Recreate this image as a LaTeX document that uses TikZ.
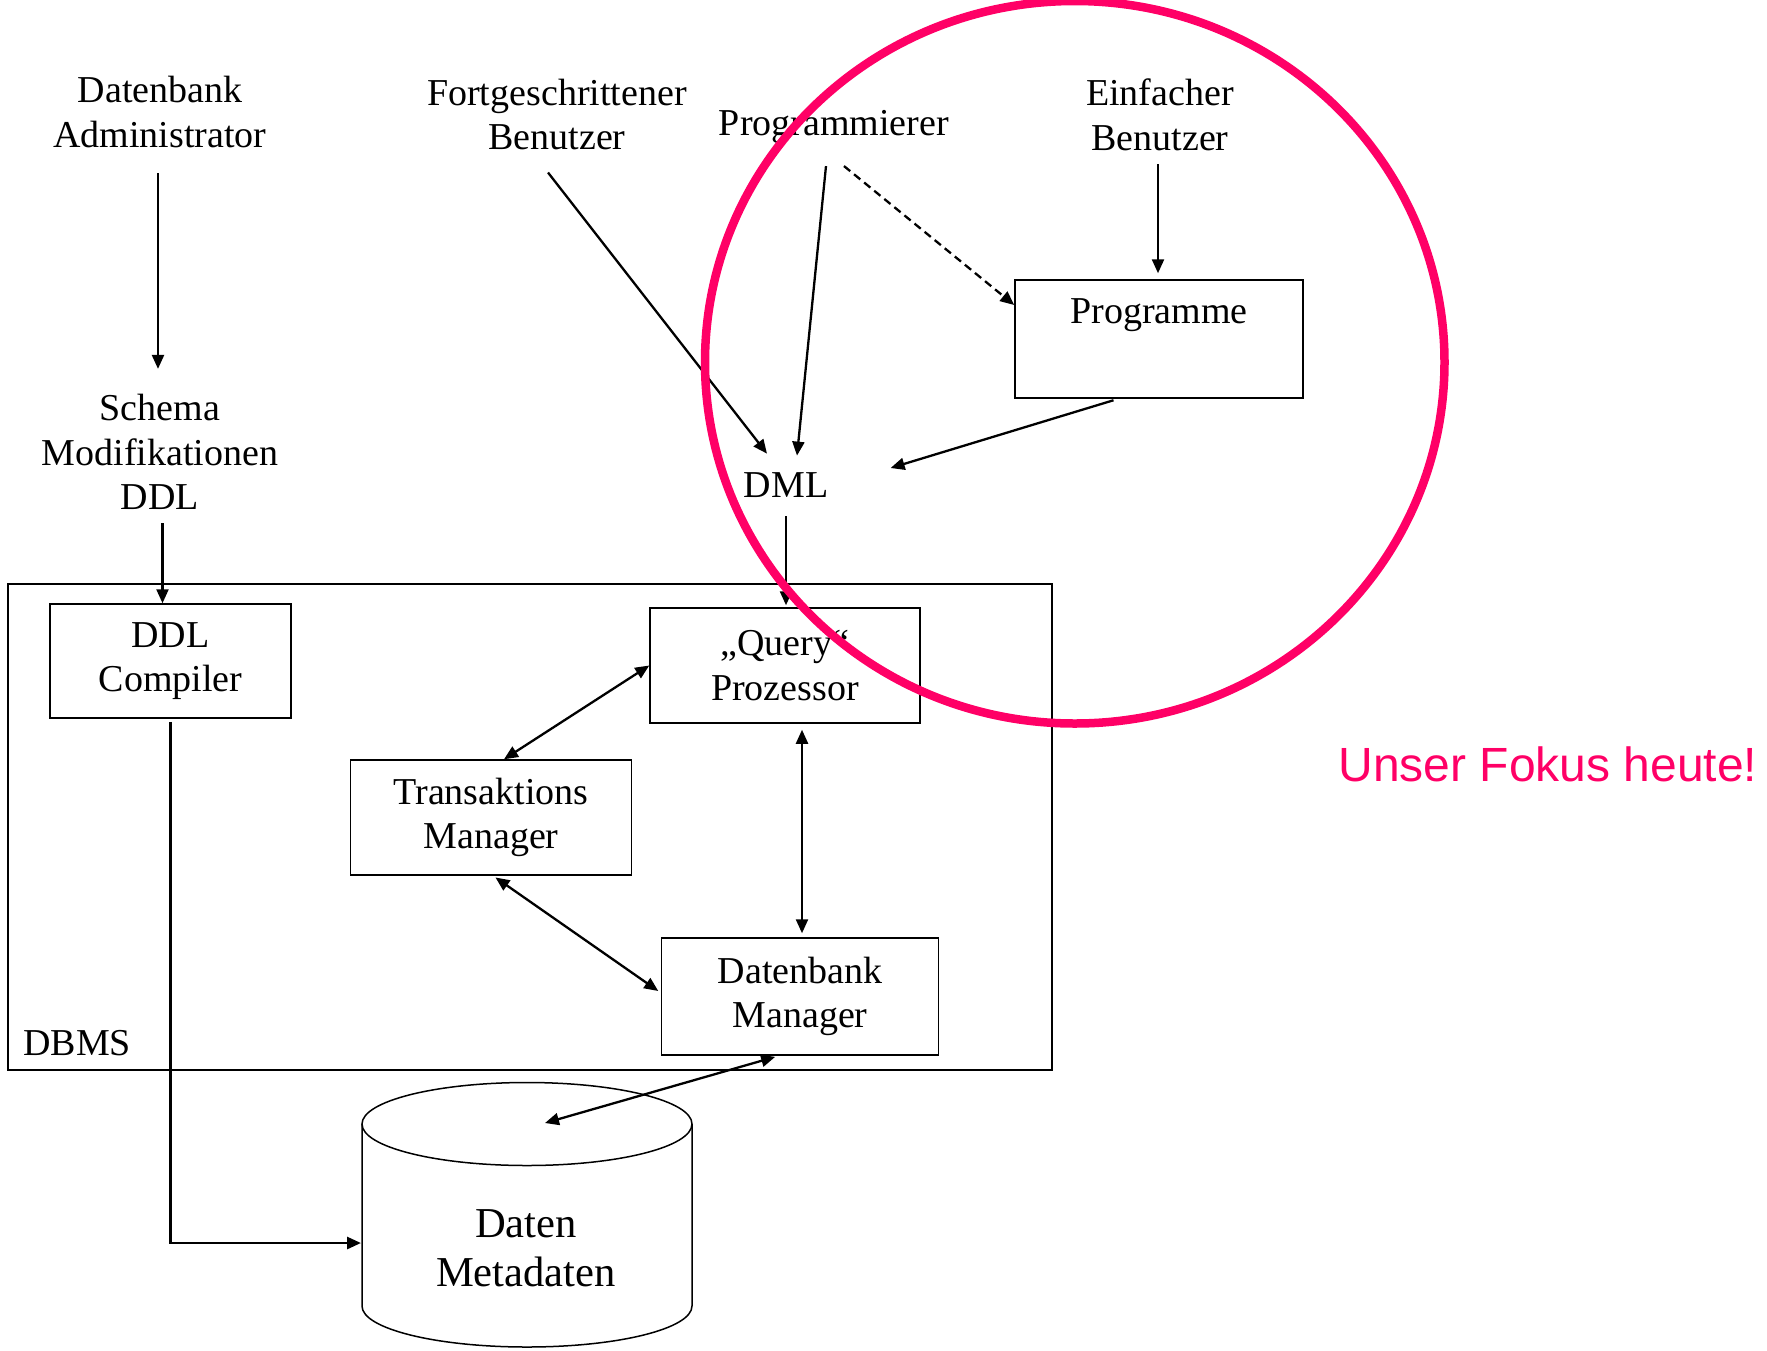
\documentclass[tikz,border=0pt]{standalone}
\usepackage{fontspec}
\setmainfont{Liberation Serif}
\newfontfamily\fokusfont{Liberation Sans}
\usetikzlibrary{arrows.meta,positioning}
\definecolor{fokus}{RGB}{255,0,102}

\begin{document}
\begin{tikzpicture}[x=0.5pt,y=-0.5pt,>={Triangle[length=7pt,width=6pt]},
txt/.style={align=center,inner sep=0pt,font=\fontsize{19}{22.25}\selectfont},
box/.style={draw,line width=.75pt,align=center,inner sep=0pt,font=\fontsize{19}{22.25}\selectfont},
ar/.style={->,line width=1.15pt}, dar/.style={<->,line width=1.15pt}]
\useasboundingbox (0,0) rectangle (1767,1350);
\node[txt] (admin) at (160,112) {Datenbank\\Administrator};
\node[txt] (schema) at (160,452) {Schema\\Modifikationen\\DDL};
\node[txt] (fort) at (557,114.5) {Fortgeschrittener\\Benutzer};
\node[txt] (progr) at (834,127) {Programmierer};
\node[txt] (einf) at (1160,115) {Einfacher\\Benutzer};
\node[txt] (dml) at (786,485.5) {DML};
\node[box,minimum width=144pt,minimum height=59pt] (prog) at (1159,339) {};
\node[txt,below=9.5pt of prog.north] (progtxt) {Programme};
\node[box,minimum width=522pt,minimum height=243pt] (dbms) at (530,827) {};
\node[txt,anchor=base west] (dbmstxt) at (23,1055) {DBMS};
\node[box,minimum width=120.5pt,minimum height=57pt] (ddl) at (170.5,661) {DDL\\Compiler};
\node[box,minimum width=135pt,minimum height=57.5pt] (query) at (785,665.5) {„Query“\\Prozessor};
\node[box,minimum width=140.5pt,minimum height=57.5pt] (trans) at (491,817.5) {Transaktions\\Manager};
\node[box,minimum width=138.5pt,minimum height=58.5pt] (dbm) at (800,996.5) {Datenbank\\Manager};
\draw[line width=.75pt] (362,1124) -- (362,1306) arc[start angle=180,end angle=0,x radius=165,y radius=41] -- (692,1124);
\draw[line width=.75pt] (527,1124) ellipse [x radius=165,y radius=41.5];
\node[txt,font=\fontsize{21.3}{24.5}\selectfont] (daten) at (526,1248.5) {Daten\\Metadaten};
\coordinate (dbtop) at (545,1123);
\coordinate (dbleft) at (361,1243);
\draw[ar,shorten <=12.5pt,shorten >=12.5pt] ([xshift=-1pt]admin.south) -- ([xshift=-1pt]schema.north);
\draw[ar,shorten <=6.5pt] ([xshift=-4pt]ddl.north |- schema.south) -- ([xshift=-4pt]ddl.north);
\draw[ar] ([xshift=-4.5pt,yshift=-11pt]fort.south) -- ([xshift=-9.5pt,yshift=9.5pt]dml.north);
\draw[ar] ([xshift=-4pt,yshift=-11pt]progr.south) -- ([xshift=5.5pt,yshift=8.5pt]dml.north);
\draw[ar,dashed,dash pattern=on 4pt off 2.5pt] ([xshift=5pt,yshift=-11pt]progr.south) -- ([yshift=17pt]prog.west);
\draw[ar,shorten <=6.5pt,shorten >=3pt] ([xshift=-1pt]einf.south) -- ([xshift=-1pt]einf.south |- prog.north);
\draw[ar] ([xshift=-22.75pt,yshift=-.75pt]prog.south) -- ([xshift=31pt,yshift=8.75pt]dml.east);
\draw[ar,shorten <=9pt,shorten >=1pt] (dml.south) -- (dml.south |- query.north);
\draw[dar] (query.west) -- ([xshift=6.5pt]trans.north);
\draw[dar,shorten <=3pt,shorten >=2pt] ([xshift=8.5pt]query.south) -- ([xshift=8.5pt]query.south |- dbm.north);
\draw[dar,shorten <=1.5pt] ([xshift=1pt]trans.south) -- ([xshift=-1.25pt,yshift=2.75pt]dbm.west);
\draw[dar,shorten <=2pt] ([xshift=-10.5pt]dbm.south) -- (dbtop);
\draw[ar,line width=1.4pt,shorten <=1.5pt] (ddl.south) |- (dbleft);
\draw[fokus,line width=4.25pt] (1074.75,362.25) ellipse [x radius=369.75,y radius=361.25];
\node[anchor=base west,inner sep=0pt,text=fokus,font=\fokusfont\fontsize{24}{29}\selectfont] (fokus) at (1338,781) {Unser Fokus heute!};
\end{tikzpicture}
\end{document}
